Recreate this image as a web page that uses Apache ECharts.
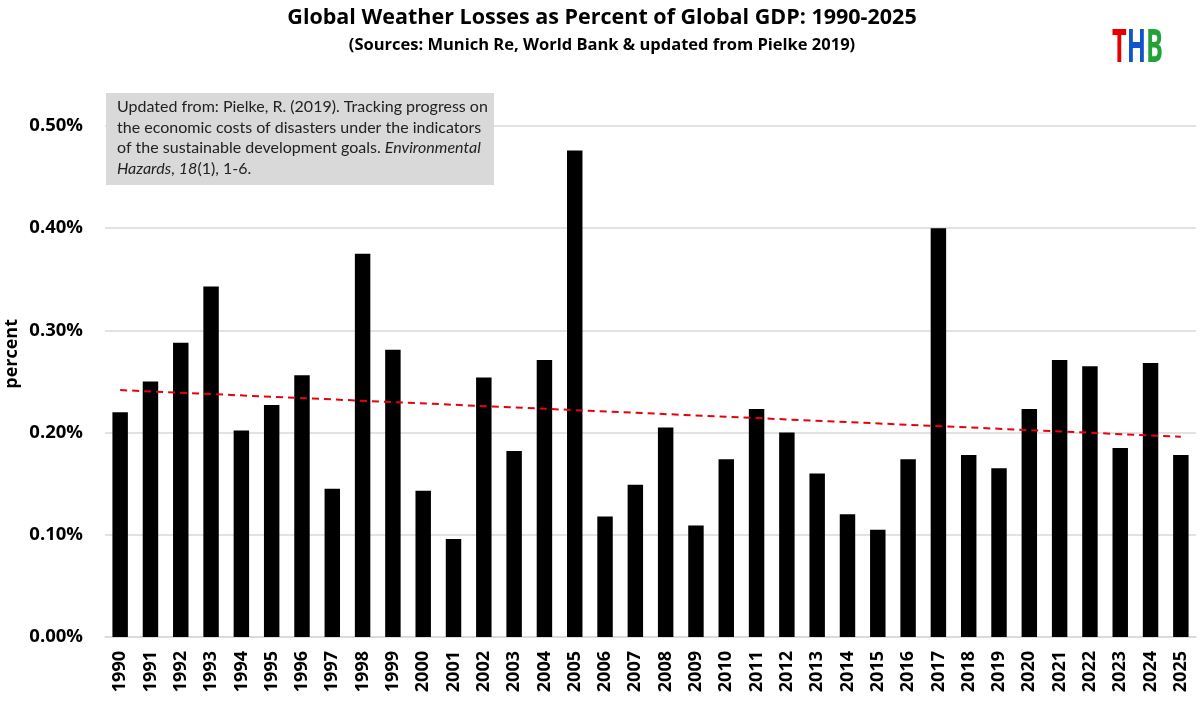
<!DOCTYPE html>
<html>
<head>
<meta charset="utf-8">
<script src="https://cdn.jsdelivr.net/npm/echarts@6/dist/echarts.min.js"></script>
<style>
  html, body { margin: 0; padding: 0; background: #fff; }
  #chart { width: 1200px; height: 702px; }
</style>
</head>
<body>
<div id="chart"></div>
<script>
const years = ['1990','1991','1992','1993','1994','1995','1996','1997','1998','1999',
  '2000','2001','2002','2003','2004','2005','2006','2007','2008','2009',
  '2010','2011','2012','2013','2014','2015','2016','2017','2018','2019',
  '2020','2021','2022','2023','2024','2025'];
const lossPct = [0.220, 0.250, 0.288, 0.343, 0.202, 0.227, 0.256, 0.145, 0.375, 0.281,
  0.143, 0.096, 0.254, 0.182, 0.271, 0.476, 0.118, 0.149, 0.205, 0.109,
  0.174, 0.223, 0.200, 0.160, 0.120, 0.105, 0.174, 0.400, 0.178, 0.165,
  0.223, 0.271, 0.265, 0.185, 0.268, 0.178];
const trendEnds = [0.2416, 0.1959];
const yTicks = [0, 0.1, 0.2, 0.3, 0.4, 0.5];
const titleText = 'Global Weather Losses as Percent of Global GDP: 1990-2025';
const subtitleText = '(Sources: Munich Re, World Bank & updated from Pielke 2019)';

const chart = echarts.init(document.getElementById('chart'), null, {renderer: 'canvas'});
const option = {
  backgroundColor: '#ffffff',
  animation: false,
  title: [
    { text: titleText, left: 597, top: 2, textAlign: 'center',
      textStyle: { fontFamily: 'Open Sans', fontWeight: 'bold', fontSize: 21.5, color: '#000' } },
    { text: subtitleText, left: 597, top: 32, textAlign: 'center',
      textStyle: { fontFamily: 'Open Sans', fontWeight: 'bold', fontSize: 16.5, color: '#000' } }
  ],
  grid: { left: 105, right: 4, top: 126, bottom: 65, containLabel: false },
  xAxis: {
    type: 'category',
    data: years,
    axisTick: { show: false },
    axisLine: { show: true, lineStyle: { color: '#d9d9d9', width: 1.5 } },
    axisLabel: { rotate: 90, margin: 14, fontFamily: 'Open Sans', fontWeight: 'bold', fontSize: 18, color: '#000', interval: 0 }
  },
  yAxis: {
    type: 'value',
    min: yTicks[0], max: yTicks[yTicks.length - 1], interval: 0.1,
    axisLine: { show: false }, axisTick: { show: false },
    splitLine: { lineStyle: { color: '#d9d9d9', width: 1.5 } },
    axisLabel: { margin: 22, fontFamily: 'Open Sans', fontWeight: 'bold', fontSize: 18.5, color: '#000',
      formatter: v => v.toFixed(2) + '%' }
  },
  series: [{
    type: 'bar',
    data: lossPct,
    barWidth: '51%',
    itemStyle: { color: '#000' },
    markLine: {
      silent: true, symbol: ['none', 'none'],
      label: { show: false },
      lineStyle: { color: '#e8000b', width: 2, type: [7, 5] },
      data: [[ { coord: [years[0], trendEnds[0]] }, { coord: [years[years.length - 1], trendEnds[1]] } ]]
    }
  }],
  graphic: [
    { type: 'text', left: 3, top: 319, rotation: Math.PI / 2,
      style: { text: 'percent', font: 'bold 18px "Open Sans"', fill: '#000' } },
    { type: 'rect', shape: { x: 106, y: 93, width: 388, height: 92 },
      style: { fill: '#d9d9d9' }, z: 100 },
    { type: 'text', x: 117, y: 97, z: 101,
      style: {
        rich: {
          n: { fontFamily: 'Lato', fontSize: 16, lineHeight: 20.5, fill: '#222' },
          i: { fontFamily: 'Lato', fontSize: 16, fontStyle: 'italic', lineHeight: 20.5, fill: '#222' }
        },
        text: '{n|Updated from: Pielke, R. (2019). Tracking progress on}\n' +
              '{n|the economic costs of disasters under the indicators}\n' +
              '{n|of the sustainable development goals. }{i|Environmental}\n' +
              '{i|Hazards}{n|, }{i|18}{n|(1), 1-6.}'
      } },
    { type: 'group', x: 1112, y: 26, scaleX: 0.55, children: [
      { type: 'text', x: 0, y: 0,
        style: {
          rich: {
            r: { fontFamily: 'Open Sans', fontWeight: 'bold', fontSize: 46, fill: '#e60000' },
            b: { fontFamily: 'Open Sans', fontWeight: 'bold', fontSize: 46, fill: '#1155cc' },
            g: { fontFamily: 'Open Sans', fontWeight: 'bold', fontSize: 46, fill: '#22a33a' }
          },
          text: '{r|T}{b|H}{g|B}'
        } }
    ] }
  ]
};
chart.setOption(option);
</script>
</body>
</html>
